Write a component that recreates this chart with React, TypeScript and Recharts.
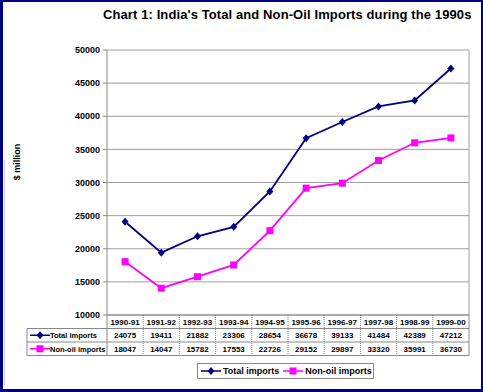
import React from 'react';
import { LineChart, Line, XAxis, YAxis, CartesianGrid } from 'recharts';

const categories = ['1990-91', '1991-92', '1992-93', '1993-94', '1994-95', '1995-96', '1996-97', '1997-98', '1998-99', '1999-00'];
const totalImports = [24075, 19411, 21882, 23306, 28654, 36678, 39133, 41484, 42389, 47212];
const nonOilImports = [18047, 14047, 15782, 17553, 22726, 29152, 29897, 33320, 35991, 36730];
const yTicks = [10000, 15000, 20000, 25000, 30000, 35000, 40000, 45000, 50000];
const seriesNames = ['Total Imports', 'Non-oil imports'];
const legendNames = ['Total imports', 'Non-oil imports'];

const data = categories.map((c, i) => ({ cat: c, total: totalImports[i], nonOil: nonOilImports[i] }));

const W = 483;
const H = 392;
const PLOT_L = 107;
const PLOT_R = 469;
const PLOT_T = 50;
const PLOT_B = 315;
const COLW = (PLOT_R - PLOT_L) / categories.length;
const ROWH = 13.5;
const LABEL_L = 27;
const NAVY = '#000080';
const MAGENTA = '#FF00FF';
const FONT = '"Liberation Sans", Arial, sans-serif';
const GRID = '#a0a0a0';

const Diamond = (props: any) => {
  const { cx, cy } = props;
  if (cx == null || cy == null) return null;
  return <path d={`M${cx},${cy - 4}L${cx + 3.5},${cy}L${cx},${cy + 4}L${cx - 3.5},${cy}Z`} fill={NAVY} />;
};
const Square = (props: any) => {
  const { cx, cy } = props;
  if (cx == null || cy == null) return null;
  return <rect x={cx - 3.5} y={cy - 3.5} width={7} height={7} fill={MAGENTA} />;
};

const cellText = { fontFamily: FONT, fontWeight: 'bold' as const, fontSize: 8, fill: '#000' };

const TableTick = (props: any) => {
  const { x, y, payload, index } = props;
  const cx = payload?.coordinate ?? x;
  const i = payload?.index ?? index;
  const left = cx - COLW / 2;
  const top = y;
  const rows = [categories[i], String(totalImports[i]), String(nonOilImports[i])];
  const parts: any[] = [];
  rows.forEach((t, r) => {
    parts.push(
      <text key={'t' + r} x={cx} y={top + ROWH * r + ROWH / 2 + 3} textAnchor="middle" {...cellText}>{t}</text>
    );
  });
  if (i > 0) {
    parts.push(<line key="vl" x1={left} x2={left} y1={top} y2={top + ROWH * 3} stroke="#888" strokeDasharray="1 1" />);
  }
  if (i === categories.length - 1) {
    const right = cx + COLW / 2;
    parts.push(<line key="rb" x1={right} x2={right} y1={top} y2={top + ROWH * 3} stroke="#888" />);
  }
  if (i === 0) {
    const tableRight = left + COLW * categories.length;
    parts.push(<line key="v0" x1={left} x2={left} y1={top} y2={top + ROWH * 3} stroke="#888" />);
    parts.push(<line key="h1" x1={LABEL_L} x2={tableRight} y1={top + ROWH} y2={top + ROWH} stroke="#888" />);
    parts.push(<line key="h2" x1={LABEL_L} x2={tableRight} y1={top + ROWH * 2} y2={top + ROWH * 2} stroke="#888" />);
    parts.push(<line key="h3" x1={LABEL_L} x2={tableRight} y1={top + ROWH * 3} y2={top + ROWH * 3} stroke="#888" />);
    parts.push(<line key="vL" x1={LABEL_L} x2={LABEL_L} y1={top + ROWH} y2={top + ROWH * 3} stroke="#888" />);
    [0, 1].forEach((r) => {
      const yy = top + ROWH * (r + 1) + ROWH / 2;
      const col = r === 0 ? NAVY : MAGENTA;
      parts.push(<line key={'ll' + r} x1={30} x2={50} y1={yy} y2={yy} stroke={col} strokeWidth={1.5} />);
      parts.push(r === 0 ? <Diamond key={'lm' + r} cx={40} cy={yy} /> : <Square key={'lm' + r} cx={40} cy={yy} />);
      parts.push(
        <text key={'lt' + r} x={50} y={yy + 3} {...cellText} fontSize={7.5}>{seriesNames[r]}</text>
      );
    });
  }
  return <g>{parts}</g>;
};

const YLabel = () => {
  const cy = 162;
  const x = 20;
  return (
    <text x={x} y={cy} transform={`rotate(-90 ${x} ${cy})`} textAnchor="middle" fontFamily={FONT} fontWeight="bold" fontSize={9} fill="#000">
      $ million
    </text>
  );
};

export default function App() {
  return (
    <div style={{ position: 'relative', width: W, height: H, background: '#fff', overflow: 'hidden' }}>
      <style>{'body{margin:0;}'}</style>
      <div style={{ position: 'absolute', left: 0, top: 0 }}>
        <LineChart width={W} height={H} data={data} margin={{ top: PLOT_T, right: 0, bottom: 0, left: 0 }}>
          <CartesianGrid horizontal vertical={false} stroke={GRID} yAxisId="l" />
          <XAxis
            dataKey="cat"
            height={H - PLOT_B}
            padding={{ left: COLW / 2, right: COLW / 2 }}
            tickSize={0}
            tickMargin={0}
            tickLine={false}
            axisLine={{ stroke: '#888' }}
            tick={<TableTick />}
            interval={0}
          />
          <YAxis
            yAxisId="l"
            width={PLOT_L}
            domain={[10000, 50000]}
            ticks={yTicks}
            allowDataOverflow
            tickSize={4}
            tickMargin={3}
            axisLine={{ stroke: '#888' }}
            tickLine={{ stroke: '#888' }}
            tick={{ fontFamily: FONT, fontWeight: 'bold', fontSize: 9, fill: '#000' }}
            label={<YLabel />}
          />
          <YAxis yAxisId="r" orientation="right" width={W - PLOT_R} tick={false} tickLine={false} axisLine={{ stroke: GRID }} />
          <Line yAxisId="l" dataKey="total" stroke={NAVY} strokeWidth={1.8} dot={<Diamond />} activeDot={false} isAnimationActive={false} />
          <Line yAxisId="l" dataKey="nonOil" stroke={MAGENTA} strokeWidth={1.8} dot={<Square />} activeDot={false} isAnimationActive={false} />
        </LineChart>
      </div>
      <div style={{ position: 'absolute', left: 103, top: 7, fontFamily: FONT, fontWeight: 'bold', fontSize: 13, letterSpacing: 0.1, color: '#000', whiteSpace: 'nowrap' }}>
        Chart 1: India's Total and Non-Oil Imports during the 1990s
      </div>
      <div style={{ position: 'absolute', left: 197, top: 363, width: 177, height: 16, border: '1px solid #888', boxSizing: 'border-box', background: '#fff', display: 'flex', alignItems: 'center', fontFamily: FONT, fontWeight: 'bold', fontSize: 9, whiteSpace: 'nowrap' }}>
        <svg width={22} height={10} style={{ marginLeft: 2 }}>
          <line x1={1} x2={21} y1={5} y2={5} stroke={NAVY} strokeWidth={1.5} />
          <Diamond cx={11} cy={5} />
        </svg>
        <span style={{ marginLeft: 1 }}>{legendNames[0]}</span>
        <svg width={22} height={10} style={{ marginLeft: 3 }}>
          <line x1={1} x2={21} y1={5} y2={5} stroke={MAGENTA} strokeWidth={1.5} />
          <Square cx={11} cy={5} />
        </svg>
        <span style={{ marginLeft: 1 }}>{legendNames[1]}</span>
      </div>
      <div style={{ position: 'absolute', left: 4, top: 160, width: 1, height: 225, background: '#ccc' }} />
      <div style={{ position: 'absolute', inset: 0, borderTop: `2px solid ${NAVY}`, borderRight: `2px solid ${NAVY}`, borderLeft: `3px solid ${NAVY}`, borderBottom: `3px solid ${NAVY}`, pointerEvents: 'none' }} />
    </div>
  );
}
